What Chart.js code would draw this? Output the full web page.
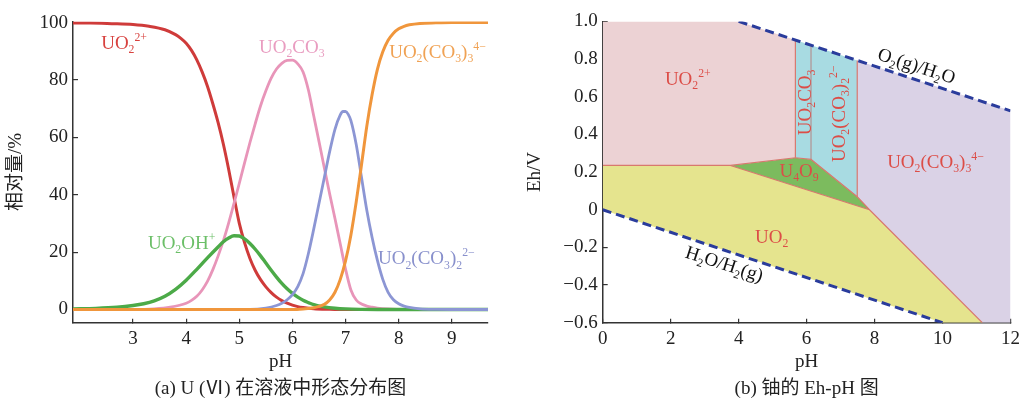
<!DOCTYPE html>
<html>
<head>
<meta charset="utf-8">
<script src="https://cdn.jsdelivr.net/npm/chart.js@4.4.1/dist/chart.umd.min.js"></script>
<style>
  html, body { margin: 0; background: #fff; width: 1029px; height: 399px; overflow: hidden; }
  .panel { position: absolute; top: 0; }
</style>
</head>
<body>
<div class="panel" style="left:0"><canvas id="spec" width="515" height="399"></canvas></div>
<div class="panel" style="left:515px"><canvas id="ehph" width="514" height="399"></canvas></div>
<script>
// (a) U(VI) species in solution, [pH, %]
const uo2 = [[1.87,99.8],[2.2,99.8],[2.6,99.6],[3.0,99.3],[3.3,98.7],[3.6,97.5],[3.8,95.8],[3.9,94.5],
  [4.0,92.8],[4.1,90.3],[4.2,87.0],[4.3,82.8],[4.4,77.8],[4.5,71.8],[4.6,65.2],[4.7,57.6],[4.8,48.8],
  [4.9,39.2],[5.0,30.0],[5.1,23.2],[5.2,17.8],[5.3,13.6],[5.4,10.4],[5.5,7.9],[5.6,5.9],[5.7,4.3],
  [5.8,3.1],[5.9,2.2],[6.0,1.5],[6.1,1.0],[6.2,0.7],[6.4,0.3],[6.7,0.1],[7.0,0],[9.68,0]];
const uo2co3 = [[1.87,0],[3.0,0],[3.4,0.2],[3.7,0.8],[4.0,2.2],[4.1,3.2],[4.2,4.6],[4.3,6.8],[4.4,9.8],
  [4.5,13.8],[4.6,18.6],[4.7,24.0],[4.8,30.2],[4.9,37.0],[5.0,44.0],[5.1,51.2],[5.2,58.2],[5.3,64.8],
  [5.4,71.0],[5.5,76.2],[5.6,80.6],[5.7,83.8],[5.8,85.8],[5.9,86.8],[6.0,86.9],[6.1,85.6],[6.2,82.8],
  [6.3,76.5],[6.4,67.5],[6.5,58.5],[6.6,49.3],[6.7,40.3],[6.8,31.7],[6.9,22.8],[7.0,14.0],[7.1,6.8],
  [7.2,3.3],[7.3,1.9],[7.4,1.2],[7.5,0.8],[7.6,0.5],[7.8,0.2],[8.1,0],[9.68,0]];
const uo2oh = [[1.87,0.2],[2.3,0.4],[2.7,0.8],[3.0,1.4],[3.2,2.0],[3.4,3.0],[3.6,4.6],[3.8,7.0],[4.0,10.2],
  [4.2,14.0],[4.4,18.0],[4.6,21.8],[4.7,23.6],[4.8,24.9],[4.9,25.7],[5.0,25.6],[5.1,24.6],[5.2,23.0],
  [5.3,21.0],[5.4,18.7],[5.5,16.2],[5.6,13.7],[5.7,11.3],[5.8,9.1],[5.9,7.2],[6.0,5.6],[6.1,4.3],
  [6.2,3.2],[6.3,2.4],[6.4,1.7],[6.6,0.9],[6.8,0.45],[7.0,0.2],[7.3,0.05],[7.6,0],[9.68,0]];
const uo2co3_2 = [[1.87,0],[5.2,0],[5.5,0.5],[5.7,1.4],[5.8,2.2],[5.9,3.4],[6.0,5.2],[6.1,8.0],[6.2,12.5],
  [6.3,19.5],[6.4,28.0],[6.5,37.0],[6.6,46.0],[6.7,55.0],[6.8,62.8],[6.9,67.8],[6.95,69.0],[7.0,69.0],
  [7.05,68.0],[7.1,65.8],[7.2,57.5],[7.3,46.0],[7.4,34.5],[7.5,25.0],[7.6,17.0],[7.7,10.5],[7.8,6.0],
  [7.9,3.4],[8.0,2.0],[8.1,1.2],[8.2,0.7],[8.4,0.25],[8.7,0.05],[9.0,0],[9.68,0]];
const uo2co3_3 = [[1.87,0],[6.0,0],[6.2,0.2],[6.4,0.6],[6.6,1.8],[6.7,3.3],[6.8,6.0],[6.9,10.5],[7.0,17.0],
  [7.1,26.0],[7.2,37.5],[7.3,50.5],[7.4,64.0],[7.5,75.0],[7.6,83.8],[7.7,89.8],[7.8,93.8],[7.9,96.3],
  [8.0,97.8],[8.1,98.7],[8.2,99.2],[8.4,99.7],[8.7,99.9],[9.0,100],[9.68,100]];
const specTicksX = [3, 4, 5, 6, 7, 8, 9];
const specTicksY = [0, 20, 40, 60, 80, 100];

// (b) Eh-pH fields of uranium, [pH, Eh/V]
const fieldUO2ion = [[0,1.0],[4.0,1.0],[5.67,0.901],[5.67,0.276],[3.76,0.235],[0,0.235]];
const fieldCarb12 = [[5.67,0.901],[7.49,0.793],[7.49,0.069],[6.13,0.267],[5.67,0.276]];
const fieldU4O9 = [[3.76,0.235],[5.67,0.276],[6.13,0.267],[7.49,0.069],[7.85,0.0]];
const fieldCarb3 = [[7.49,0.793],[12,0.525],[12,-0.6],[11.17,-0.6],[7.85,0.0],[7.49,0.069]];
const fieldUO2 = [[0,0.235],[3.76,0.235],[7.85,0.0],[11.17,-0.6],[10.0,-0.6],[0,0]];
const edgeMain = [[0,0.235],[3.76,0.235],[5.67,0.276],[6.13,0.267],[7.49,0.069],[7.85,0.0],[11.17,-0.6]];
const edgeU4O9 = [[3.76,0.235],[7.85,0.0]];
const edge567 = [[5.67,0.276],[5.67,0.901]];
const edge613 = [[6.13,0.267],[6.13,0.868]];
const edge749 = [[7.49,0.069],[7.49,0.793]];
const lineO2 = [[4.0,1.0],[12,0.525]];
const lineH2 = [[0,0],[10.0,-0.6]];
const ehTicksX = [0, 2, 4, 6, 8, 10, 12];
const ehTicksY = [-0.6, -0.4, -0.2, 0, 0.2, 0.4, 0.6, 0.8, 1.0];
const ehTickLabels = ['−0.6', '−0.4', '−0.2', '0', '0.2', '0.4', '0.6', '0.8', '1.0'];

const FONT = '"Liberation Serif", "Noto Sans CJK SC", serif';
Chart.defaults.font.family = FONT;
Chart.defaults.color = '#222';

const pts = a => a.map(([x, y]) => ({x, y}));

// text with sub/superscripts: '_' = subscript, '^' = superscript
const richLabels = {
  id: 'richLabels',
  afterDatasetsDraw(chart, args, opts) {
    const ctx = chart.ctx;
    const xs = chart.scales.x, ys = chart.scales.y;
    const size = opts.size;
    opts.items.forEach(item => {
      ctx.save();
      ctx.translate(xs.getPixelForValue(item.at[0]), ys.getPixelForValue(item.at[1]));
      ctx.rotate((item.angle || 0) * Math.PI / 180);
      ctx.fillStyle = item.color;
      ctx.textBaseline = 'alphabetic';
      let x = 0;
      item.parts.forEach(p => {
        let s = size, dy = 0, t = p;
        if (p[0] === '_') { s = size * 0.62; dy = size * 0.22; t = p.slice(1); }
        else if (p[0] === '^') { s = size * 0.62; dy = -size * 0.42; t = p.slice(1); }
        ctx.font = s + 'px ' + FONT;
        ctx.fillText(t, x, dy);
        x += ctx.measureText(t).width;
      });
      ctx.restore();
    });
  }
};

function axis(min, max, ticks, labels, title, width, titlePad) {
  return {
    type: 'linear', min, max,
    afterBuildTicks: s => { s.ticks = ticks.map(v => ({value: v})); },
    afterFit: s => { if (s.isHorizontal()) s.height = 56.8; else s.width = width; },
    ticks: {
      font: {size: 19}, padding: width ? 10 : 9, maxRotation: 0, autoSkip: false,
      callback: (v, i) => labels ? labels[i] : String(v)
    },
    grid: {drawOnChartArea: false, tickLength: width ? -5 : -4, color: '#333', lineWidth: 1.2},
    border: {color: '#333', width: 1.5},
    title: {display: true, text: title, font: {size: 19}, padding: titlePad}
  };
}

function caption(text) {
  return {display: true, position: 'bottom', fullSize: false, text,
    font: {size: 19, lineHeight: 1, weight: 'normal'}, padding: 0, color: '#222'};
}

const curve = (arr, color, w) => ({
  data: pts(arr), borderColor: color, borderWidth: w, pointRadius: 0, fill: false,
  cubicInterpolationMode: 'monotone', tension: 0.4
});

new Chart(document.getElementById('spec'), {
  type: 'line',
  data: {
    datasets: [
      curve(uo2co3_3, '#f0963c', 3),
      curve(uo2co3_2, '#8c96d4', 2.8),
      curve(uo2oh, '#4caa48', 3.4),
      curve(uo2co3, '#e895b9', 2.8),
      curve(uo2, '#cf3b3a', 3)
    ]
  },
  options: {
    responsive: false, animation: false, events: [],
    layout: {padding: {left: 0, right: 27, top: 20.5, bottom: 0.5}},
    scales: {
      x: axis(1.87, 9.68, specTicksX, null, 'pH', 0, {top: 0, bottom: 6.4}),
      y: axis(-4.6, 100.4, specTicksY, null, '相对量/%', 73, {top: 5.1, bottom: 0})
    },
    plugins: {
      legend: {display: false}, tooltip: {enabled: false},
      title: caption('(a) U (Ⅵ) 在溶液中形态分布图'),
      richLabels: {size: 19, items: [
        {at: [2.40, 90.8], color: '#d8423f', parts: ['UO', '_2', '^2+']},
        {at: [5.37, 89.4], color: '#e99cc0', parts: ['UO', '_2', 'CO', '_3']},
        {at: [7.82, 87.7], color: '#f0a254', parts: ['UO', '_2', '(CO', '_3', ')', '_3', '^4−']},
        {at: [3.28, 21.0], color: '#6cbf68', parts: ['UO', '_2', 'OH', '^+']},
        {at: [7.61, 15.7], color: '#8890cc', parts: ['UO', '_2', '(CO', '_3', ')', '_2', '^2−']}
      ]}
    }
  },
  plugins: [richLabels]
});

const field = (arr, color) => ({
  data: pts(arr), backgroundColor: color, borderColor: 'rgba(0,0,0,0)', borderWidth: 0,
  pointRadius: 0, fill: 'shape', tension: 0, order: 3
});
const edge = (arr, color) => ({
  data: pts(arr), borderColor: color, borderWidth: 1.2, pointRadius: 0, fill: false, tension: 0, order: 2
});
const water = arr => ({
  data: pts(arr), borderColor: '#2a3c9c', borderWidth: 3, borderDash: [9, 5], pointRadius: 0,
  fill: false, tension: 0, order: 1
});

new Chart(document.getElementById('ehph'), {
  type: 'line',
  data: {
    datasets: [
      field(fieldUO2ion, '#ecd2d4'),
      field(fieldCarb12, '#a8dbe2'),
      field(fieldU4O9, '#7cbb5e'),
      field(fieldCarb3, '#dad2e6'),
      field(fieldUO2, '#e5e48e'),
      edge(edgeMain, '#d8786e'),
      edge(edgeU4O9, '#d8786e'),
      edge(edge567, '#d8786e'),
      edge(edge613, '#b39292'),
      edge(edge749, '#d8786e'),
      water(lineO2),
      water(lineH2)
    ]
  },
  options: {
    responsive: false, animation: false, events: [],
    layout: {padding: {left: 0, right: 10.3, top: 21, bottom: 0.5}},
    scales: {
      x: axis(0, 12, ehTicksX, null, 'pH', 0, {top: 0, bottom: 6.4}),
      y: axis(-0.6, 1.0, ehTicksY, ehTickLabels, 'Eh/V', 87.7, {top: 8.6, bottom: 0})
    },
    plugins: {
      legend: {display: false}, tooltip: {enabled: false},
      title: caption('(b) 铀的 Eh-pH 图'),
      richLabels: {size: 19, items: [
        {at: [1.83, 0.661], color: '#dc4d47', parts: ['UO', '_2', '^2+']},
        {at: [6.13, 0.396], angle: -90, color: '#dc4d47', parts: ['UO', '_2', 'CO', '_3']},
        {at: [7.13, 0.253], angle: -90, color: '#dc4d47', parts: ['UO', '_2', '(CO', '_3', ')', '_2', '^2−']},
        {at: [8.37, 0.221], color: '#dc4d47', parts: ['UO', '_2', '(CO', '_3', ')', '_3', '^4−']},
        {at: [5.20, 0.175], color: '#dc4d47', parts: ['U', '_4', 'O', '_9']},
        {at: [4.48, -0.176], color: '#dc4d47', parts: ['UO', '_2']},
        {at: [8.06, 0.799], angle: 18, color: '#111', parts: ['O', '_2', '(g)/H', '_2', 'O']},
        {at: [2.40, -0.252], angle: 18, color: '#111', parts: ['H', '_2', 'O/H', '_2', '(g)']}
      ]}
    }
  },
  plugins: [richLabels]
});
</script>
</body>
</html>
